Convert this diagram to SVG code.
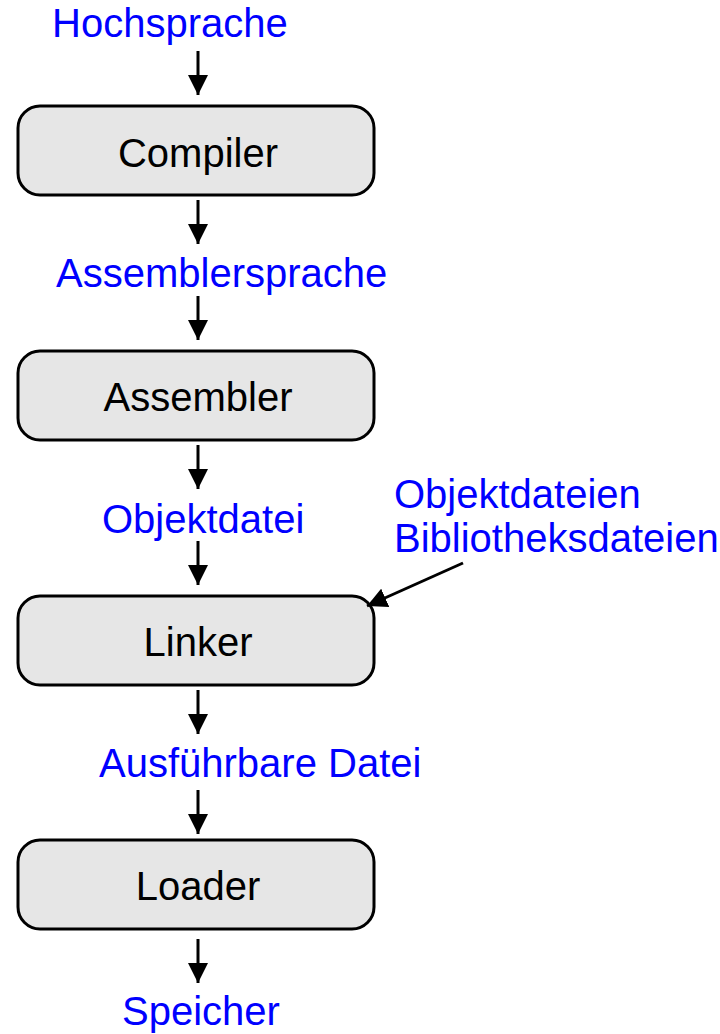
<svg xmlns="http://www.w3.org/2000/svg" width="720" height="1034" viewBox="0 0 720 1034">
<style>
.box{fill:#e6e6e6;stroke:#000;stroke-width:3}
.nt{font-family:"Liberation Sans",Arial,sans-serif;font-size:40px;fill:#000;text-anchor:middle}
.lt{font-family:"Liberation Sans",Arial,sans-serif;font-size:40px;fill:#0000ff}
.c{stroke:#000;stroke-width:3;fill:none;marker-end:url(#ah)}
</style>
<defs>
<marker id="ah" viewBox="0 0 20 20" refX="20" refY="10" markerWidth="20" markerHeight="20" markerUnits="userSpaceOnUse" orient="auto">
<path d="M0,0 L20,10 L0,20 Z" fill="#000"/>
</marker>
</defs>
<rect width="720" height="1034" fill="#fff"/>
<g id="labels">
<text class="lt" x="52" y="37">Hochsprache</text>
<text class="lt" x="56" y="287">Assemblersprache</text>
<text class="lt" x="102" y="533">Objektdatei</text>
<text class="lt" x="394" y="508">Objektdateien</text>
<text class="lt" x="394" y="552">Bibliotheksdateien</text>
<text class="lt" x="99" y="777">Ausführbare Datei</text>
<text class="lt" x="122" y="1025">Speicher</text>
</g>
<g id="compiler"><rect class="box" x="18" y="106" width="356" height="89" rx="22"/><text class="nt" x="198" y="167">Compiler</text></g>
<g id="assembler"><rect class="box" x="18" y="351" width="356" height="89" rx="22"/><text class="nt" x="198" y="411">Assembler</text></g>
<g id="linker"><rect class="box" x="18" y="596" width="356" height="89" rx="22"/><text class="nt" x="198" y="656">Linker</text></g>
<g id="loader"><rect class="box" x="18" y="840" width="356" height="89" rx="22"/><text class="nt" x="198" y="900">Loader</text></g>
<g id="connectors">
<line class="c" x1="198" y1="51" x2="198" y2="95"/>
<line class="c" x1="198" y1="200" x2="198" y2="244"/>
<line class="c" x1="198" y1="296" x2="198" y2="340"/>
<line class="c" x1="198" y1="445" x2="198" y2="489"/>
<line class="c" x1="198" y1="541" x2="198" y2="585"/>
<line class="c" x1="198" y1="690" x2="198" y2="734"/>
<line class="c" x1="198" y1="790" x2="198" y2="834"/>
<line class="c" x1="198" y1="939" x2="198" y2="983"/>
<line class="c" x1="463" y1="563" x2="367" y2="606"/>
</g>
</svg>
